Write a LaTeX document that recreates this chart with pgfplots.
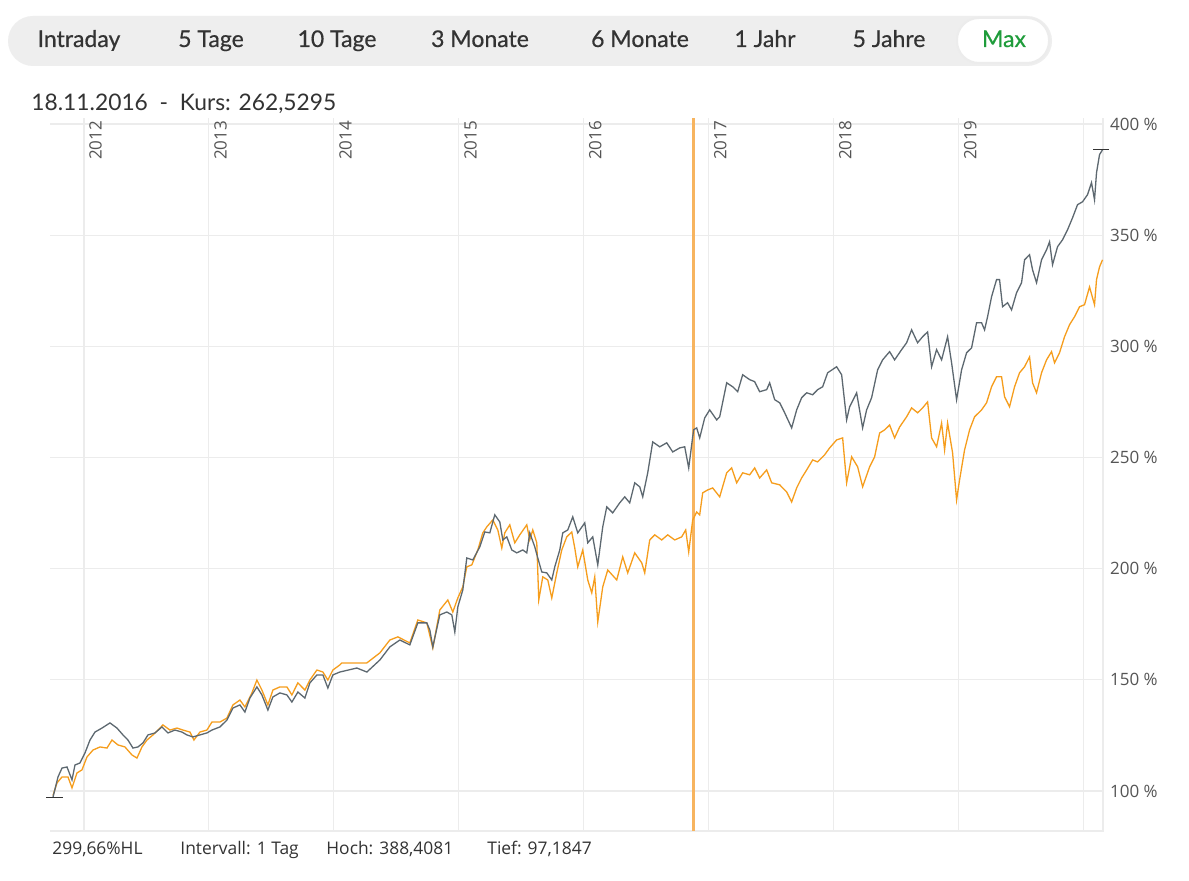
\documentclass[border=0pt]{standalone}
\usepackage{pgfplots}
\pgfplotsset{compat=1.18}
\usepackage{fontspec}
\setmainfont{Lato}
\newfontfamily\osans{Open Sans}
\newfontfamily\tabfont[UprightFeatures={FakeBold=0.5}]{Lato}

\definecolor{linegray}{RGB}{93,104,112}
\definecolor{lineorange}{RGB}{246,157,28}
\definecolor{cursor}{RGB}{247,180,95}
\definecolor{gridc}{RGB}{236,236,236}
\definecolor{txt}{RGB}{51,51,51}
\definecolor{lbl}{RGB}{85,85,85}
\definecolor{tabbg}{RGB}{238,238,238}
\definecolor{maxgreen}{RGB}{31,156,59}

\begin{document}
\begin{tikzpicture}
\begin{scope}[x=0.5pt,y=0.5pt]
\path[use as bounding box,fill=white] (0,0) rectangle (1189,881);

% range tabs (y measured from the bottom: 881 - pixel row)
\fill[tabbg,rounded corners=12.5pt] (8,815) rectangle (1052,865);
\draw[fill=white,draw=gridc,line width=1pt,rounded corners=11pt] (957,818) rectangle (1049,863);
\begin{scope}[every node/.style={anchor=base,inner sep=0pt,text=txt,font=\tabfont\fontsize{11.5}{13}\selectfont}]
\node at (79,834) {Intraday};
\node at (211,834) {5 Tage};
\node at (337,834) {10 Tage};
\node at (480,834) {3 Monate};
\node at (640,834) {6 Monate};
\node at (765,834) {1 Jahr};
\node at (889,834) {5 Jahre};
\node[text=maxgreen] at (1004,834) {Max};
\end{scope}

\node[anchor=base west,inner sep=0pt,text=txt,font=\fontsize{11.4}{13}\selectfont] at (31,770) {18.11.2016\ \ -\ \ Kurs: 262,5295};

\begin{scope}[every node/.style={anchor=base west,inner sep=0pt,text=txt,font=\osans\fontsize{8.7}{10}\selectfont}]
\node at (52,26) {299,66\%HL};
\node at (180,26) {Intervall: 1 Tag};
\node at (326,26) {Hoch: 388,4081};
\node at (487,26) {Tief: 97,1847};
\end{scope}
\end{scope}

\begin{axis}[
    at={(25pt,25pt)}, anchor=south west,
    width=526.5pt, height=356.5pt, scale only axis,
    xmin=2011.728, xmax=2020.156,
    ymin=82, ymax=402.7,
    axis line style={draw=none},
    xtick={2012,...,2020}, xticklabels={},
    ytick={100,150,200,250,300,350,400},
    yticklabels={100~\%,150~\%,200~\%,250~\%,300~\%,350~\%,400~\%},
    yticklabel pos=right,
    major tick length=0pt,
    grid=major,
    major grid style={gridc,line width=0.6pt},
    ticklabel style={font=\osans\fontsize{8.5}{10}\selectfont,text=lbl},
    clip=false,
]
\draw[gridc,line width=0.8pt] (rel axis cs:0,0) -- (rel axis cs:1,0) -- (rel axis cs:1,1);

% cursor line 18.11.2016
\addplot[cursor,line width=1.5pt] coordinates {(2016.88,82) (2016.88,402.7)};

% benchmark (orange)
\addplot[lineorange,line width=0.65pt] coordinates {
(2011.752,98.0) (2011.784,103.6) (2011.824,106.3) (2011.872,106.3) (2011.904,101.4) (2011.944,108.1) (2011.984,109.5) (2012.024,115.3) (2012.072,118.4) (2012.128,119.8) (2012.184,119.3) (2012.224,122.9) (2012.272,120.7) (2012.328,119.8) (2012.384,116.2) (2012.424,114.8) (2012.464,119.8) (2012.504,122.9) (2012.552,125.2) (2012.592,127.4) (2012.632,129.7) (2012.688,127.4) (2012.744,128.3) (2012.792,127.4) (2012.848,126.5) (2012.88,122.9) (2012.928,126.5) (2012.984,127.4) (2013.024,131.0) (2013.088,131.0) (2013.144,132.8) (2013.192,138.7) (2013.248,140.9) (2013.288,137.8) (2013.344,144.1) (2013.384,149.9) (2013.424,145.4) (2013.472,138.7) (2013.512,145.4) (2013.568,146.8) (2013.624,146.8) (2013.664,143.2) (2013.712,148.6) (2013.768,145.4) (2013.808,149.9) (2013.864,154.4) (2013.912,153.5) (2013.952,149.9) (2013.992,154.4) (2014.048,156.7) (2014.064,157.6) (2014.168,157.6) (2014.264,157.6) (2014.368,162.1) (2014.448,167.9) (2014.512,169.3) (2014.608,166.6) (2014.672,176.9) (2014.744,175.6) (2014.792,164.3) (2014.848,181.4) (2014.912,185.9) (2014.952,180.5) (2014.992,186.8) (2015.032,191.8) (2015.064,200.8) (2015.104,201.7) (2015.152,208.4) (2015.192,216.1) (2015.224,218.8) (2015.272,221.9) (2015.312,217.4) (2015.344,209.3) (2015.368,216.1) (2015.408,219.7) (2015.448,211.6) (2015.488,215.2) (2015.544,219.7) (2015.568,212.9) (2015.592,217.4) (2015.624,211.6) (2015.64,185.9) (2015.672,196.3) (2015.712,194.9) (2015.744,186.8) (2015.784,198.1) (2015.824,208.4) (2015.864,214.3) (2015.904,216.5) (2015.928,209.3) (2015.952,200.8) (2015.992,208.4) (2016.032,194.9) (2016.064,189.1) (2016.088,196.3) (2016.112,176.0) (2016.152,191.8) (2016.192,199.4) (2016.264,194.9) (2016.312,205.3) (2016.352,198.1) (2016.408,207.1) (2016.464,202.6) (2016.488,198.1) (2016.528,212.9) (2016.568,215.2) (2016.624,212.9) (2016.672,215.2) (2016.728,212.9) (2016.784,214.3) (2016.816,217.4) (2016.84,207.5) (2016.872,221.9) (2016.904,225.5) (2016.928,224.2) (2016.952,234.1) (2016.992,235.4) (2017.032,236.3) (2017.088,232.3) (2017.144,243.1) (2017.184,245.3) (2017.224,238.6) (2017.272,243.1) (2017.328,242.2) (2017.368,245.3) (2017.408,240.8) (2017.464,244.4) (2017.504,238.6) (2017.568,237.7) (2017.624,234.5) (2017.664,230.0) (2017.704,236.3) (2017.744,240.8) (2017.784,244.4) (2017.832,248.9) (2017.872,248.0) (2017.928,251.2) (2017.968,254.3) (2018.024,257.9) (2018.072,258.8) (2018.104,238.6) (2018.144,250.3) (2018.192,245.8) (2018.232,236.8) (2018.288,245.8) (2018.328,250.3) (2018.368,261.0) (2018.408,262.4) (2018.448,264.6) (2018.488,258.8) (2018.528,263.7) (2018.584,268.3) (2018.624,272.3) (2018.672,270.1) (2018.712,272.3) (2018.752,275.0) (2018.784,258.8) (2018.824,254.8) (2018.864,265.5) (2018.888,253.4) (2018.912,265.5) (2018.952,252.1) (2018.984,230.9) (2019.008,239.9) (2019.048,253.4) (2019.088,262.4) (2019.128,268.3) (2019.184,271.4) (2019.224,274.6) (2019.264,281.8) (2019.304,286.3) (2019.344,286.3) (2019.368,277.3) (2019.408,272.8) (2019.448,281.8) (2019.488,288.1) (2019.528,290.8) (2019.568,295.2) (2019.592,283.6) (2019.624,279.1) (2019.664,288.1) (2019.704,293.9) (2019.744,297.6) (2019.768,292.6) (2019.808,297.1) (2019.848,304.3) (2019.888,309.7) (2019.928,313.3) (2019.968,317.8) (2020.008,318.7) (2020.048,326.7) (2020.088,318.7) (2020.104,330.0) (2020.128,335.7) (2020.152,338.9)
};

% fund (gray)
\addplot[linegray,line width=0.65pt] coordinates {
(2011.752,97.2) (2011.792,106.3) (2011.824,110.3) (2011.864,110.8) (2011.904,105.0) (2011.928,111.7) (2011.968,112.6) (2012.008,117.1) (2012.048,122.9) (2012.088,126.5) (2012.144,128.3) (2012.208,130.6) (2012.264,128.3) (2012.312,125.2) (2012.352,122.9) (2012.392,119.3) (2012.432,119.8) (2012.472,121.6) (2012.512,125.2) (2012.568,126.1) (2012.624,128.8) (2012.672,126.1) (2012.728,127.4) (2012.784,126.5) (2012.824,125.2) (2012.872,124.3) (2012.928,125.2) (2012.984,126.1) (2013.024,127.4) (2013.088,128.8) (2013.144,131.9) (2013.192,137.3) (2013.248,138.7) (2013.288,135.5) (2013.328,141.8) (2013.384,146.8) (2013.424,143.2) (2013.472,136.4) (2013.512,142.3) (2013.568,144.1) (2013.624,143.2) (2013.664,140.0) (2013.712,144.5) (2013.768,141.8) (2013.808,148.6) (2013.864,152.2) (2013.912,152.2) (2013.952,146.3) (2013.992,152.2) (2014.048,153.5) (2014.184,155.3) (2014.264,153.5) (2014.368,158.9) (2014.448,164.8) (2014.528,167.9) (2014.608,165.7) (2014.672,175.6) (2014.744,175.6) (2014.768,172.4) (2014.792,164.8) (2014.848,179.2) (2014.904,180.5) (2014.944,179.2) (2014.968,171.5) (2014.992,182.8) (2015.032,190.4) (2015.064,204.8) (2015.112,203.9) (2015.168,209.8) (2015.208,216.5) (2015.248,216.1) (2015.288,224.2) (2015.328,221.0) (2015.352,212.9) (2015.384,214.3) (2015.424,208.4) (2015.464,207.1) (2015.512,208.4) (2015.544,207.1) (2015.568,216.1) (2015.608,209.8) (2015.632,204.8) (2015.664,198.5) (2015.704,198.1) (2015.744,194.9) (2015.768,200.8) (2015.808,208.4) (2015.832,216.1) (2015.872,217.4) (2015.912,223.3) (2015.952,216.1) (2016.008,220.6) (2016.032,211.6) (2016.072,214.3) (2016.112,201.7) (2016.152,218.8) (2016.184,227.8) (2016.232,225.1) (2016.288,229.6) (2016.328,232.3) (2016.368,229.6) (2016.408,238.6) (2016.448,236.8) (2016.472,232.3) (2016.512,243.1) (2016.552,257.0) (2016.608,254.8) (2016.664,256.6) (2016.712,252.5) (2016.768,254.3) (2016.808,254.8) (2016.84,245.3) (2016.872,259.3) (2016.88,262.5) (2016.904,263.3) (2016.928,258.8) (2016.968,267.8) (2017.008,271.4) (2017.064,266.9) (2017.088,268.3) (2017.144,283.6) (2017.192,281.8) (2017.232,279.6) (2017.272,287.2) (2017.328,285.0) (2017.368,284.1) (2017.408,279.6) (2017.464,280.5) (2017.488,283.6) (2017.528,276.0) (2017.568,274.6) (2017.608,270.1) (2017.664,263.3) (2017.704,271.4) (2017.744,276.9) (2017.784,279.1) (2017.832,278.2) (2017.872,280.5) (2017.912,281.8) (2017.952,288.1) (2018.024,290.8) (2018.064,287.2) (2018.104,266.9) (2018.128,272.8) (2018.184,279.1) (2018.232,263.3) (2018.264,271.4) (2018.304,276.9) (2018.352,289.4) (2018.392,293.9) (2018.448,297.6) (2018.488,293.9) (2018.544,298.5) (2018.584,301.6) (2018.624,307.4) (2018.672,301.6) (2018.712,304.3) (2018.752,306.5) (2018.784,290.8) (2018.824,298.5) (2018.864,293.9) (2018.912,304.3) (2018.944,292.6) (2018.984,276.0) (2019.024,289.4) (2019.064,297.1) (2019.104,299.3) (2019.144,310.6) (2019.184,310.6) (2019.208,307.4) (2019.232,313.3) (2019.264,322.3) (2019.304,330.0) (2019.328,330.0) (2019.352,317.8) (2019.392,319.6) (2019.424,316.4) (2019.464,324.1) (2019.504,328.6) (2019.528,338.9) (2019.568,341.2) (2019.592,334.4) (2019.624,328.6) (2019.664,338.9) (2019.704,343.4) (2019.728,347.0) (2019.752,336.7) (2019.792,344.8) (2019.832,347.9) (2019.872,352.4) (2019.912,357.8) (2019.952,363.7) (2019.992,365.0) (2020.032,368.2) (2020.064,373.6) (2020.088,365.9) (2020.104,378.1) (2020.128,386.2) (2020.152,388.4)
};

% high / low markers
\addplot[black!80,only marks,mark=-,mark size=4pt,mark options={line width=0.6pt}] coordinates {(2011.764,97.18) (2020.14,388.41)};

% year labels
\foreach \yr in {2012,...,2019}{
  \edef\tmp{\noexpand\node[rotate=90,anchor=north east,inner sep=0pt,text=lbl,font=\noexpand\osans\noexpand\fontsize{8.5}{10}\noexpand\selectfont] at (axis cs:\yr.04,401.5) {\yr};}
  \tmp
}
\end{axis}
\end{tikzpicture}
\end{document}
